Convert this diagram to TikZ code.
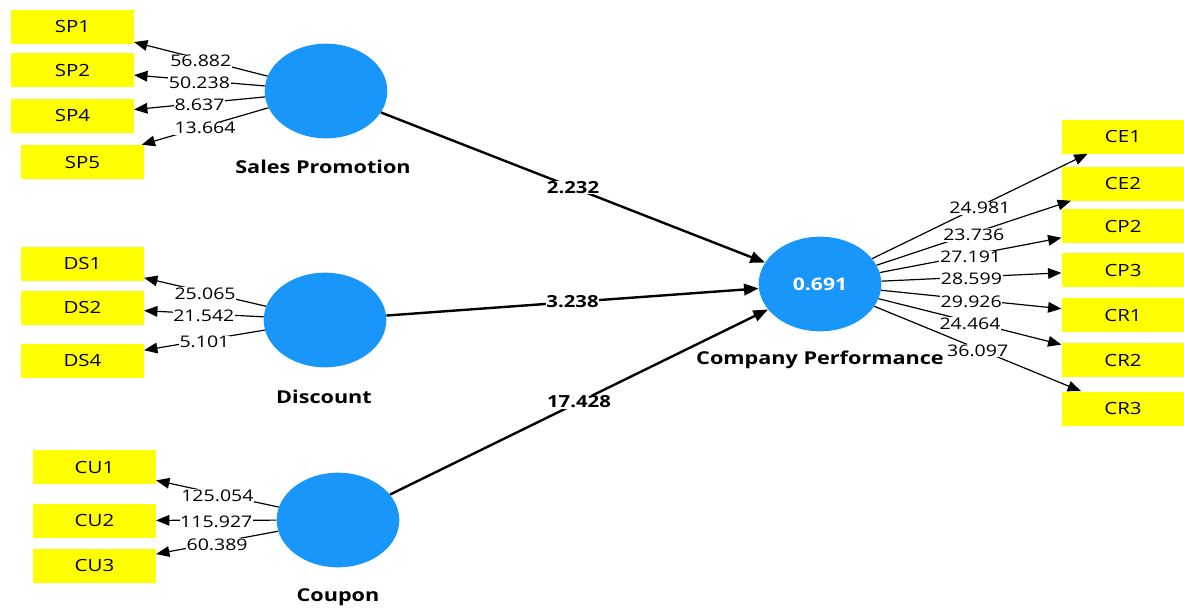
\documentclass[tikz,border=0pt]{standalone}
\usepackage{fontspec}
\setmainfont{Open Sans}[FakeStretch=1.22]
\usetikzlibrary{arrows.meta, shapes.geometric}
\definecolor{lvBlue}{RGB}{25,150,250}
\definecolor{indYellow}{RGB}{255,255,0}

\begin{document}
\begin{tikzpicture}[
  x=0.75pt, y=-0.75pt,
  lv/.style={ellipse, fill=lvBlue, inner sep=0pt, minimum width=92pt, minimum height=71pt, text=white, font=\fontsize{13}{15}\selectfont\bfseries},
  lvname/.style={font=\fontsize{13.3}{15}\selectfont\bfseries},
  ind/.style={rectangle, fill=indYellow, inner sep=0pt, minimum width=92pt, minimum height=25.5pt, font=\fontsize{12.6}{14}\selectfont},
  load/.style={-{Triangle[length=10pt, width=8pt]}, line width=0.9pt},
  path/.style={-{Triangle[length=11pt, width=8.5pt]}, line width=1.8pt},
  val/.style={midway, yshift=-1.5pt, fill=white, inner sep=0.5pt, font=\fontsize{12}{14}\selectfont},
  pval/.style={midway, fill=white, inner sep=0.5pt, font=\fontsize{12.5}{14}\selectfont\bfseries}
]
  \useasboundingbox (0,0) rectangle (1184,607);

  % latent variables
  \node[lv] (sp) at (326,91) {};
  \node[lv] (ds) at (325,320) {};
  \node[lv] (cu) at (338,520) {};
  \node[lv] (cp) at (820,284) {0.691};
  \node[lvname] (sp-name) at (323,167) {Sales Promotion};
  \node[lvname] (ds-name) at (324,397) {Discount};
  \node[lvname] (cu-name) at (338,597) {Coupon};
  \node[lvname] (cp-name) at (820,360) {Company Performance};

  % indicators
  \foreach \n/\x/\y/\t in {sp1/72.5/26.5/SP1, sp2/72.5/70/SP2, sp4/72.5/115.5/SP4, sp5/82.5/162/SP5,
      ds1/82.5/263.5/DS1, ds2/82.5/307.5/DS2, ds4/82.5/360.5/DS4,
      cu1/94.5/467/CU1, cu2/94.5/520.5/CU2, cu3/94.5/565.5/CU3,
      ce1/1123/136.5/CE1, ce2/1123/183.5/CE2, cp2/1123/226/CP2, cp3/1123/270/CP3,
      cr1/1123/315/CR1, cr2/1123/360/CR2, cr3/1123/408.5/CR3}
    \node[ind] (\n) at (\x,\y) {\t};

  % outer loadings
  \foreach \a/\b/\v in {sp/sp1/56.882, sp/sp2/50.238, sp/sp4/8.637, sp/sp5/13.664,
      ds/ds1/25.065, ds/ds2/21.542, ds/ds4/5.101,
      cu/cu1/125.054, cu/cu2/115.927, cu/cu3/60.389,
      cp/ce1/24.981, cp/ce2/23.736, cp/cp2/27.191, cp/cp3/28.599,
      cp/cr1/29.926, cp/cr2/24.464, cp/cr3/36.097}
    \draw[load] (\a) -- (\b) node[val] {\v};

  % inner model
  \draw[path] (sp) -- (cp) node[pval] {2.232};
  \draw[path] (ds) -- (cp) node[pval] {3.238};
  \draw[path] (cu) -- (cp) node[pval] {17.428};
\end{tikzpicture}
\end{document}
